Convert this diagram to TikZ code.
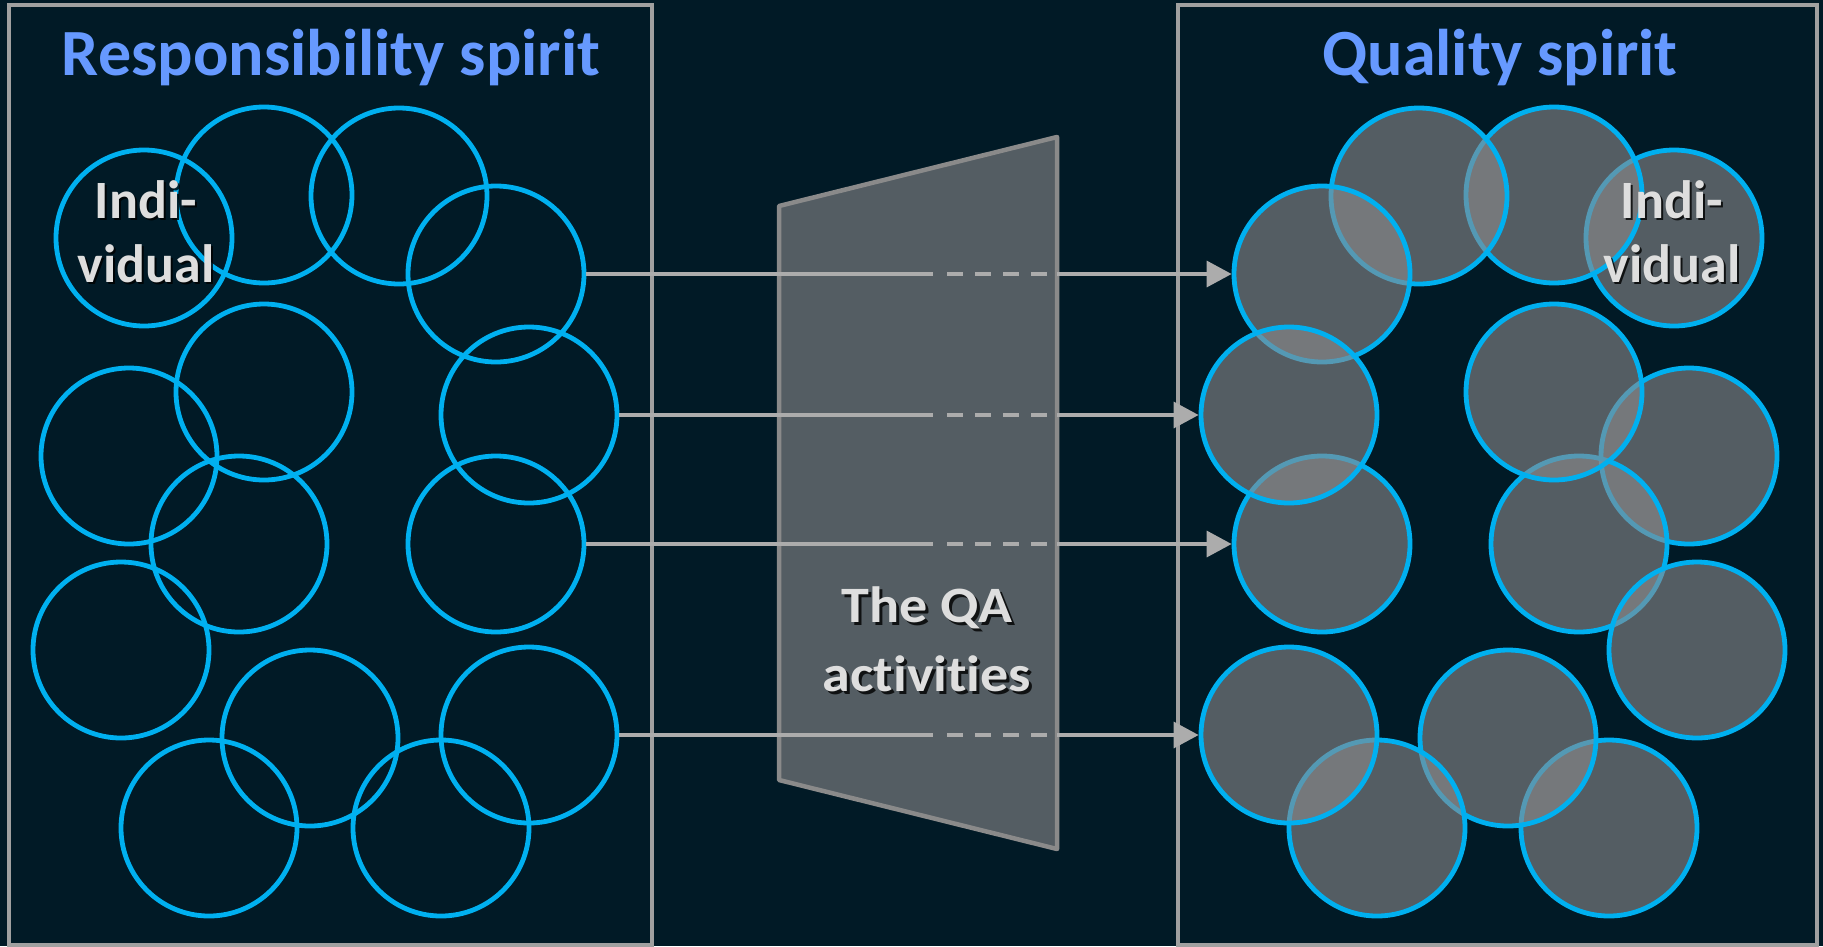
\documentclass[tikz,border=0pt]{standalone}
\usepackage{fontspec}
\setmainfont{Carlito}[Ligatures=NoCommon]
\newfontfamily\qafont{Carlito}[FakeStretch=1.1, Ligatures=NoCommon]
\usetikzlibrary{arrows.meta}

\definecolor{bgnavy}{RGB}{1,26,38}
\definecolor{ringblue}{RGB}{0,176,240}
\definecolor{titleblue}{RGB}{102,153,255}
\definecolor{framegray}{RGB}{160,160,160}
\definecolor{linkgray}{RGB}{172,172,172}
\definecolor{funnelgray}{RGB}{138,138,138}
\definecolor{veil}{RGB}{140,138,140}
\definecolor{labelwhite}{RGB}{222,222,222}

\tikzset{
  ring/.style={circle, draw=ringblue, line width=4.8pt, minimum size=176pt, inner sep=0pt},
  ringfilled/.style={ring, fill=veil, fill opacity=0.6},
  panel/.style={draw=framegray, line width=3.5pt},
  funnel/.style={draw=funnelgray, line width=4.5pt, line join=round, fill=veil, fill opacity=0.6},
  link/.style={draw=linkgray, line width=3.5pt},
  linkdash/.style={link, dash pattern=on 16pt off 12pt},
  linktip/.style={link, -{Triangle[length=25pt,width=26pt]}},
  heading/.style={text=titleblue, font=\bfseries\fontsize{66}{70}\selectfont, anchor=base},
  ringlabel/.style={text=labelwhite, font=\bfseries\fontsize{54}{64}\selectfont, align=center, anchor=base},
  qalabel/.style={text=labelwhite, font=\qafont\bfseries\fontsize{51}{69}\selectfont, align=center, anchor=base},
  shade/.style={text=black, text opacity=0.8}
}

\begin{document}
\begin{tikzpicture}[x=1pt,y=-1pt]
  % canvas
  \fill[bgnavy] (0,0) rectangle (1823,946);
  \useasboundingbox (0,0) rectangle (1823,946);

  % the two panels
  \draw[panel] (9,5) rectangle (652,945);
  \draw[panel] (1178,5) rectangle (1817,945);

  % headings
  \node[heading] (headL) at (331,75) {Responsibility spirit};
  \node[heading] (headR) at (1500,75) {Quality spirit};

  % open rings on the left
  \node[ring] (L1)  at (144,238) {};
  \node[ring] (L2)  at (264,195) {};
  \node[ring] (L3)  at (399,196) {};
  \node[ring] (L4)  at (496,274) {};
  \node[ring] (L5)  at (529,415) {};
  \node[ring] (L6)  at (264,392) {};
  \node[ring] (L7)  at (129,456) {};
  \node[ring] (L8)  at (239,544) {};
  \node[ring] (L9)  at (496,544) {};
  \node[ring] (L10) at (121,650) {};
  \node[ring] (L11) at (310,738) {};
  \node[ring] (L12) at (529,735) {};
  \node[ring] (L13) at (209,828) {};
  \node[ring] (L14) at (441,828) {};

  % filled rings on the right, stacked in drawing order
  \node[ringfilled] (R7)  at (1689,456) {};
  \node[ringfilled] (R8)  at (1579,544) {};
  \node[ringfilled] (R10) at (1697,650) {};
  \node[ringfilled] (R6)  at (1554,392) {};
  \node[ringfilled] (R13) at (1609,828) {};
  \node[ringfilled] (R11) at (1508,738) {};
  \node[ringfilled] (R14) at (1377,828) {};
  \node[ringfilled] (R12) at (1289,735) {};
  \node[ringfilled] (R1)  at (1674,238) {};
  \node[ringfilled] (R2)  at (1554,195) {};
  \node[ringfilled] (R3)  at (1419,196) {};
  \node[ringfilled] (R4)  at (1322,274) {};
  \node[ringfilled] (R9)  at (1322,544) {};
  \node[ringfilled] (R5)  at (1289,415) {};

  % the QA funnel
  \draw[funnel] (779,206) -- (1057,137) -- (1057,849) -- (779,780) -- cycle;

  % connectors: solid, dashed inside the funnel, then solid with a tip
  \coordinate (solidend)  at (933,0);
  \coordinate (dashstart) at (947,0);
  \coordinate (dashend)   at (1057,0);
  \foreach \a/\b in {L4/R4, L5/R5, L9/R9, L12/R12}{
    \draw[link]     (\a.east) -- (\a.east -| solidend);
    \draw[linkdash] (\a.east -| dashstart) -- (\a.east -| dashend);
    \draw[linktip]  (\a.east -| dashend) -- (\b.west);
  }

  % labels with their drop shadows (base = last line)
  \node[ringlabel, shade] (indiLs) at (148,284) {Indi-\\vidual};
  \node[ringlabel] (indiL) at (146,282) {Indi-\\vidual};
  \node[ringlabel, shade] (indiRs) at (1674,284) {Indi-\\vidual};
  \node[ringlabel] (indiR) at (1672,282) {Indi-\\vidual};
  \node[qalabel, shade] (qas) at (930,694) {The QA\\activities};
  \node[qalabel] (qa) at (927,691) {The QA\\activities};
\end{tikzpicture}
\end{document}
